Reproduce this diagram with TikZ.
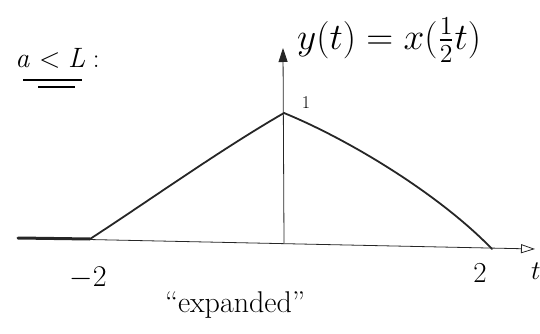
\documentclass[tikz,border=0pt]{standalone}
\usepackage{amsmath}
\usepackage{graphicx}
\usetikzlibrary{arrows.meta}
\begin{document}
\begin{tikzpicture}[x=1pt,y=-1pt,
  axis/.style={line width=0.8pt,black!85},
  curve/.style={line width=1.8pt,black!85,line cap=round,line join=round},
  lbl/.style={inner sep=0pt,font=\fontsize{20}{24}\selectfont}]
\useasboundingbox (0,0) rectangle (540,334);
% points
\coordinate (xs) at (18,238);
\coordinate (xe) at (535,249);
\coordinate (o) at (284,243);
\coordinate (yt) at (283,48);
\coordinate (pk) at (284,113);
\coordinate (lz) at (90,239);
\coordinate (rz) at (492,249);
% axes
\draw[axis,-{Triangle[open,length=14pt,width=9pt]}] (xs) -- (xe);
\draw[axis,-{Triangle[length=14pt,width=9pt]}] (o) -- (yt);
% signal
\draw[line width=3pt,black!85,line cap=round] (xs) -- (lz);
\draw[curve] (lz) .. controls (150,200) and (220,150) .. (pk);
\draw[curve] (pk) .. controls (350,140) and (440,195) .. (rz);
% labels
\node[lbl,anchor=west] (cond) at (15,58) {\scalebox{1.35}{$\mathit{a}<\mathit{L}$\;:}};
\draw[line width=1.3pt] (23,80) -- (82,80);
\draw[line width=1.3pt] (38,87) -- (75,87);
\node[lbl,anchor=west] (eq) at (297,40) {\scalebox{1.8}{$y(t)=x(\tfrac{1}{2}t)$}};
\node[lbl,font=\fontsize{18}{20}\selectfont] (one) at (306,103) {1};
\node[lbl] (m2) at (88,278) {\scalebox{1.45}{$-2$}};
\node[lbl] (p2) at (480,273) {\scalebox{1.45}{2}};
\node[lbl,anchor=west] (t) at (531,271) {\scalebox{1.3}{$t$}};
\node[lbl] (exp) at (235,305) {\scalebox{1.5}{``expanded''}};
\end{tikzpicture}
\end{document}
